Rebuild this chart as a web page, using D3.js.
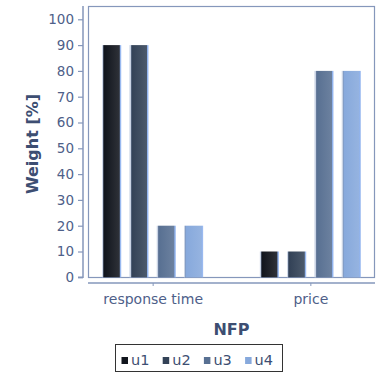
<!DOCTYPE html>
<html><head><meta charset="utf-8">
<script src="https://cdn.jsdelivr.net/npm/d3@7/dist/d3.min.js"></script>
<style>body{margin:0;background:#fff}svg{display:block}text{font-family:"DejaVu Sans",sans-serif}</style>
</head><body>
<script>
const categories = ["response time", "price"];
const seriesNames = ["u1", "u2", "u3", "u4"];
const u1 = [90, 10];
const u2 = [90, 10];
const u3 = [20, 80];
const u4 = [20, 80];
const yTicks = [0, 10, 20, 30, 40, 50, 60, 70, 80, 90, 100];
const colors = ["#11151d", "#334257", "#587092", "#87a9dc"];
const seriesValues = [u1, u2, u3, u4];

const W = 378, H = 376;
const L = 88, R = 375, T = 6, B = 277;
const svg = d3.select("body").append("svg").attr("width", W).attr("height", H);

const y = d3.scaleLinear().domain([0, 100]).range([277.3, 19.3]);
const x = d3.scalePoint().domain(categories).range([L, R]).padding(0.41);
const inner = d3.scaleBand().domain(seriesNames).range([-50.5, 50.5]).paddingInner(0.3).paddingOuter(0);

const defs = svg.append("defs");
colors.forEach((c, i) => {
  const g = defs.append("linearGradient").attr("id", "g" + i).attr("x1", "0").attr("x2", "1").attr("y1", "0").attr("y2", "0");
  g.append("stop").attr("offset", "0%").attr("stop-color", "#c9d3e4");
  g.append("stop").attr("offset", "6%").attr("stop-color", "#c9d3e4");
  g.append("stop").attr("offset", "6%").attr("stop-color", d3.interpolateRgb(c, "#7a8aa8")(0.4));
  g.append("stop").attr("offset", "12%").attr("stop-color", d3.interpolateRgb(c, "#7a8aa8")(0.4));
  g.append("stop").attr("offset", "12%").attr("stop-color", c);
  g.append("stop").attr("offset", "90%").attr("stop-color", d3.interpolateRgb(c, "#ffffff")(0.12));
  g.append("stop").attr("offset", "94%").attr("stop-color", "#8fb2ee");
  g.append("stop").attr("offset", "100%").attr("stop-color", "#a9c4f2");
});

svg.append("rect").attr("x", L + 0.5).attr("y", T + 0.5).attr("width", R - L - 1).attr("height", B - T)
  .attr("fill", "#fff").attr("stroke", "#8597bb").attr("stroke-width", 1.2);

seriesValues.forEach((vals, si) => {
  svg.append("g").selectAll("rect").data(vals).join("rect")
    .attr("x", (d, i) => x(categories[i]) + inner(seriesNames[si]))
    .attr("y", d => y(d))
    .attr("width", inner.bandwidth())
    .attr("height", d => y(0) - y(d))
    .attr("fill", `url(#g${si})`);
});

const yAxis = d3.axisLeft(y).tickValues(yTicks).tickSize(5).tickPadding(4);
const gy = svg.append("g").attr("transform", "translate(83,0)").call(yAxis);
gy.select(".domain").attr("stroke", "#8597bb").attr("stroke-width", 1.5).attr("d", `M-5,${y(0)}H0V${T}`);
gy.selectAll(".tick line").attr("stroke", "#8597bb").attr("stroke-width", 1.2);
gy.selectAll(".tick text").attr("fill", "#4e6089").attr("font-size", 13.5).attr("font-family", "DejaVu Sans");

const xAxis = d3.axisBottom(x).tickSize(3).tickPadding(8);
const gx = svg.append("g").attr("transform", "translate(0,283)").call(xAxis);
gx.select(".domain").attr("stroke", "#8597bb").attr("stroke-width", 1.5).attr("d", `M${L},0H${R}`);
gx.selectAll(".tick line").attr("stroke", "#8597bb");
gx.selectAll(".tick text").attr("fill", "#4e6089").attr("font-size", 14).attr("font-family", "DejaVu Sans");

svg.append("text").attr("transform", `translate(38,144) rotate(-90)`).attr("text-anchor", "middle")
  .attr("font-size", 16).attr("font-weight", "bold").attr("fill", "#3d4e72").text("Weight [%]");
svg.append("text").attr("x", (L + R) / 2).attr("y", 335).attr("text-anchor", "middle")
  .attr("font-size", 16).attr("font-weight", "bold").attr("fill", "#3d4e72").text("NFP");

const lg = svg.append("g");
lg.append("rect").attr("x", 115.5).attr("y", 344.5).attr("width", 167).attr("height", 27)
  .attr("fill", "#fff").attr("stroke", "#333").attr("stroke-width", 1);
const step = 41.2;
seriesNames.forEach((n, i) => {
  const gx0 = 121.5 + i * step;
  lg.append("rect").attr("x", gx0).attr("y", 357).attr("width", 6.5).attr("height", 7).attr("fill", colors[i]);
  lg.append("text").attr("x", gx0 + 9.5).attr("y", 365).attr("font-size", 14.5).attr("fill", "#3d4e72").text(n);
});
</script>
</body></html>
